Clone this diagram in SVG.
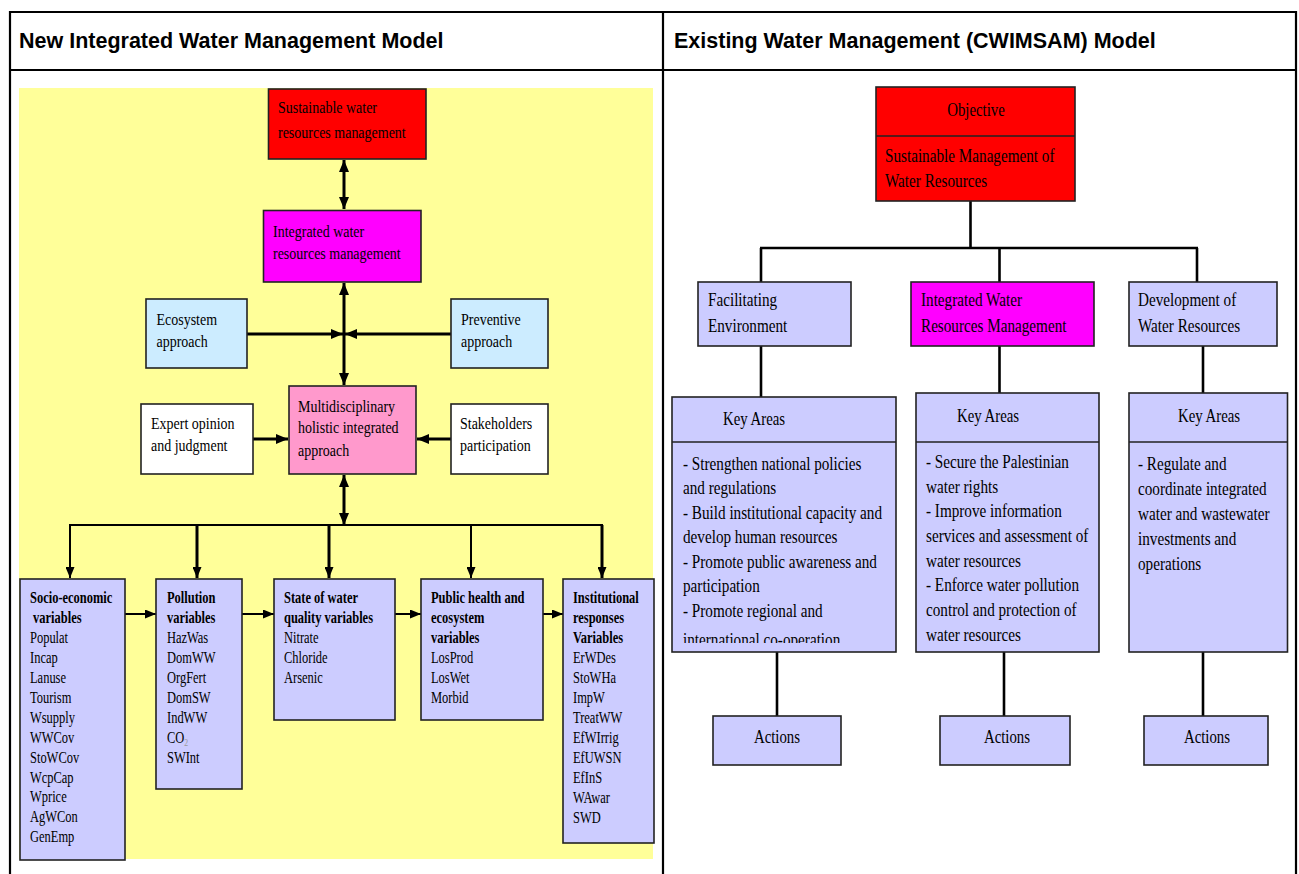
<svg xmlns="http://www.w3.org/2000/svg" width="1299" height="874" viewBox="0 0 1299 874">
<style>
.hdr{font-family:"Liberation Sans",Arial,sans-serif;font-weight:bold;font-size:21.5px;fill:#000}
.t{font-family:"Liberation Serif","Times New Roman",serif;fill:#000}
.f175{font-size:17.5px}
.f19{font-size:19px}
.f16{font-size:16px}
.b{font-weight:bold}
.box{stroke:#222;stroke-width:1.6}
.frame{stroke:#000;stroke-width:2.2;fill:none}
.c3{stroke:#000;stroke-width:3;fill:none}
.c2{stroke:#000;stroke-width:2;fill:none}
.cr{stroke:#000;stroke-width:2.6;fill:none}
.mid{text-anchor:middle}
</style>
<defs>
<marker id="ah" markerUnits="userSpaceOnUse" markerWidth="12" markerHeight="10" viewBox="0 0 12 10" refX="12" refY="5" orient="auto-start-reverse">
<path d="M0,0 L12,5 L0,10 z" fill="#000"/>
</marker>
<marker id="ahs" markerUnits="userSpaceOnUse" markerWidth="11" markerHeight="9" viewBox="0 0 11 9" refX="11" refY="4.5" orient="auto-start-reverse">
<path d="M0,0 L11,4.5 L0,9 z" fill="#000"/>
</marker>
<clipPath id="clipKA1"><rect x="672" y="442" width="224" height="201"/></clipPath>
</defs>

<g id="table">
<line class="frame" x1="10" y1="12" x2="1296" y2="12"/>
<line class="frame" x1="10" y1="70" x2="1296" y2="70"/>
<line class="frame" x1="10" y1="11" x2="10" y2="874"/>
<line class="frame" x1="663" y1="11" x2="663" y2="874"/>
<line class="frame" x1="1296" y1="11" x2="1296" y2="874"/>
<text class="hdr" x="19" y="48">New Integrated Water Management Model</text>
<text class="hdr" x="674" y="48">Existing Water Management (CWIMSAM) Model</text>
</g>

<rect id="left-bg" x="19" y="88" width="634" height="771" fill="#FFFF99"/>

<g id="connectors">
<line class="c3" x1="344" y1="160" x2="344" y2="209" marker-start="url(#ah)" marker-end="url(#ah)"/>
<line class="c3" x1="344" y1="283" x2="344" y2="385" marker-start="url(#ah)" marker-end="url(#ah)"/>
<line class="c3" x1="247" y1="334" x2="343" y2="334" marker-end="url(#ah)"/>
<line class="c3" x1="451" y1="334" x2="345" y2="334" marker-end="url(#ah)"/>
<line class="c3" x1="253" y1="439" x2="288" y2="439" marker-end="url(#ah)"/>
<line class="c3" x1="451" y1="439" x2="417" y2="439" marker-end="url(#ah)"/>
<line class="c3" x1="344" y1="475" x2="344" y2="525" marker-start="url(#ah)" marker-end="url(#ah)"/>
<line class="c2" x1="69" y1="525" x2="603" y2="525"/>
<line class="c2" x1="70" y1="525" x2="70" y2="578" marker-end="url(#ahs)"/>
<line class="c3" x1="197" y1="525" x2="197" y2="578" marker-end="url(#ahs)"/>
<line class="c3" x1="329" y1="525" x2="329" y2="578" marker-end="url(#ahs)"/>
<line class="c2" x1="471" y1="525" x2="471" y2="578" marker-end="url(#ahs)"/>
<line class="c3" x1="602" y1="525" x2="602" y2="578" marker-end="url(#ahs)"/>
<line class="c2" x1="125" y1="614" x2="156" y2="614" marker-end="url(#ahs)"/>
<line class="c2" x1="242" y1="614" x2="274" y2="614" marker-end="url(#ahs)"/>
<line class="c2" x1="395" y1="614" x2="421" y2="614" marker-end="url(#ahs)"/>
<line class="c2" x1="543" y1="614" x2="563" y2="614" marker-end="url(#ahs)"/>

<line class="cr" x1="970.5" y1="201" x2="970.5" y2="248"/>
<line class="cr" x1="760" y1="248" x2="1198" y2="248"/>
<line class="cr" x1="761" y1="248" x2="761" y2="282"/>
<line class="cr" x1="999.5" y1="248" x2="999.5" y2="282"/>
<line class="cr" x1="1197" y1="248" x2="1197" y2="282"/>
<line class="cr" x1="761" y1="346" x2="761" y2="397"/>
<line class="cr" x1="999.5" y1="346" x2="999.5" y2="393"/>
<line class="cr" x1="1203" y1="346" x2="1203" y2="393"/>
<line class="cr" x1="777" y1="652" x2="777" y2="716"/>
<line class="cr" x1="1004" y1="652" x2="1004" y2="716"/>
<line class="cr" x1="1203" y1="652" x2="1203" y2="716"/>
</g>

<g id="n-sustainable">
<rect class="box" x="268.5" y="89" width="157.5" height="70" fill="#FF0000"/>
<g class="t f175" transform="translate(278 0) scale(0.8 1)"><text y="113">Sustainable water</text><text y="138">resources management</text></g>
</g>
<g id="n-iwrm">
<rect class="box" x="263.5" y="210.5" width="157.5" height="71.5" fill="#FF00FF"/>
<g class="t f175" transform="translate(273 0) scale(0.8 1)"><text y="237">Integrated  water</text><text y="259">resources management</text></g>
</g>
<g id="n-ecosystem">
<rect class="box" x="146" y="299" width="101" height="69" fill="#CCECFF"/>
<g class="t f175" transform="translate(156.5 0) scale(0.8 1)"><text y="325">Ecosystem</text><text y="347">approach</text></g>
</g>
<g id="n-preventive">
<rect class="box" x="451" y="299" width="97" height="69" fill="#CCECFF"/>
<g class="t f175" transform="translate(461 0) scale(0.8 1)"><text y="325">Preventive</text><text y="347">approach</text></g>
</g>
<g id="n-multi">
<rect class="box" x="289" y="386" width="127" height="88" fill="#FF99CC"/>
<g class="t f175" transform="translate(298 0) scale(0.8 1)"><text y="412">Multidisciplinary</text><text y="433">holistic integrated</text><text y="456">approach</text></g>
</g>
<g id="n-expert">
<rect class="box" x="141" y="404" width="112" height="70" fill="#FFFFFF"/>
<g class="t f175" transform="translate(151 0) scale(0.8 1)"><text y="429">Expert opinion</text><text y="451">and judgment</text></g>
</g>
<g id="n-stakeholders">
<rect class="box" x="451" y="404" width="97" height="70" fill="#FFFFFF"/>
<g class="t f175" transform="translate(460 0) scale(0.8 1)"><text y="429">Stakeholders</text><text y="451">participation</text></g>
</g>

<g id="n-socio">
<rect class="box" x="20" y="579" width="105" height="281" fill="#CCCCFF"/>
<g class="t f16" transform="translate(30 0) scale(0.78 1)">
<text class="b" y="603">Socio-economic</text>
<text class="b" x="4" y="623">variables</text>
<text y="643">Populat</text><text y="663">Incap</text><text y="683">Lanuse</text><text y="703">Tourism</text><text y="723">Wsupply</text><text y="743">WWCov</text><text y="763">StoWCov</text><text y="783">WcpCap</text><text y="802.5">Wprice</text><text y="822.5">AgWCon</text><text y="842.5">GenEmp</text>
</g>
</g>
<g id="n-pollution">
<rect class="box" x="156" y="579" width="86" height="210" fill="#CCCCFF"/>
<g class="t f16" transform="translate(167 0) scale(0.78 1)">
<text class="b" y="603">Pollution</text>
<text class="b" y="623">variables</text>
<text y="643">HazWas</text><text y="663">DomWW</text><text y="683">OrgFert</text><text y="703">DomSW</text><text y="723">IndWW</text><text y="743">CO<tspan font-size="10" fill="#999" dy="3">2</tspan></text><text y="763">SWInt</text>
</g>
</g>
<g id="n-state">
<rect class="box" x="274" y="579" width="121" height="141" fill="#CCCCFF"/>
<g class="t f16" transform="translate(284 0) scale(0.78 1)">
<text class="b" y="603">State of water</text>
<text class="b" y="623">quality variables</text>
<text y="643">Nitrate</text><text y="663">Chloride</text><text y="683">Arsenic</text>
</g>
</g>
<g id="n-health">
<rect class="box" x="421" y="579" width="122" height="141" fill="#CCCCFF"/>
<g class="t f16" transform="translate(431 0) scale(0.78 1)">
<text class="b" y="603">Public health and</text>
<text class="b" y="623">ecosystem</text>
<text class="b" y="643">variables</text>
<text y="663">LosProd</text><text y="683">LosWet</text><text y="703">Morbid</text>
</g>
</g>
<g id="n-institutional">
<rect class="box" x="563" y="579" width="91" height="264" fill="#CCCCFF"/>
<g class="t f16" transform="translate(573 0) scale(0.78 1)">
<text class="b" y="603">Institutional</text>
<text class="b" y="623">responses</text>
<text class="b" y="643">Variables</text>
<text y="663">ErWDes</text><text y="683">StoWHa</text><text y="703">ImpW</text><text y="723">TreatWW</text><text y="743">EfWIrrig</text><text y="763">EfUWSN</text><text y="783">EfInS</text><text y="803">WAwar</text><text y="823">SWD</text>
</g>
</g>

<g id="n-objective">
<rect class="box" x="876" y="87" width="199" height="114" fill="#FF0000"/>
<line x1="876" y1="136" x2="1075" y2="136" stroke="#222" stroke-width="1.6"/>
<g class="t f19" transform="translate(976 0) scale(0.78 1)"><text class="mid" y="116">Objective</text></g>
<g class="t f19" transform="translate(885 0) scale(0.8 1)"><text y="162">Sustainable Management of</text><text y="187">Water Resources</text></g>
</g>
<g id="n-facilitating">
<rect class="box" x="698" y="282" width="153" height="64" fill="#CCCCFF"/>
<g class="t f19" transform="translate(708 0) scale(0.8 1)"><text y="306">Facilitating</text><text y="332">Environment</text></g>
</g>
<g id="n-iwrm2">
<rect class="box" x="911" y="282" width="183" height="64" fill="#FF00FF"/>
<g class="t f19" transform="translate(921 0) scale(0.8 1)"><text y="306">Integrated Water</text><text y="332">Resources Management</text></g>
</g>
<g id="n-development">
<rect class="box" x="1129" y="282" width="148" height="64" fill="#CCCCFF"/>
<g class="t f19" transform="translate(1138 0) scale(0.8 1)"><text y="306">Development of</text><text y="332">Water Resources</text></g>
</g>

<g id="n-key1">
<rect class="box" x="672" y="397" width="224" height="255" fill="#CCCCFF"/>
<line x1="672" y1="442" x2="896" y2="442" stroke="#222" stroke-width="1.6"/>
<g class="t f19" transform="translate(754 0) scale(0.78 1)"><text class="mid" y="425">Key Areas</text></g>
<g clip-path="url(#clipKA1)"><g class="t f19" transform="translate(683 0) scale(0.8 1)">
<text y="470">- Strengthen national policies</text>
<text y="494.5">and regulations</text>
<text y="519">- Build institutional capacity and</text>
<text y="543.5">develop human resources</text>
<text y="568">- Promote public awareness and</text>
<text y="592.5">participation</text>
<text y="617">- Promote regional and</text>
<text y="646">international co-operation</text>
</g></g>
</g>
<g id="n-key2">
<rect class="box" x="916" y="393" width="183" height="259" fill="#CCCCFF"/>
<line x1="916" y1="442" x2="1099" y2="442" stroke="#222" stroke-width="1.6"/>
<g class="t f19" transform="translate(988 0) scale(0.78 1)"><text class="mid" y="422">Key Areas</text></g>
<g class="t f19" transform="translate(926 0) scale(0.8 1)">
<text y="468">- Secure the Palestinian</text>
<text y="493">water rights</text>
<text y="517">- Improve information</text>
<text y="542">services and assessment of</text>
<text y="567">water resources</text>
<text y="591.5">- Enforce water pollution</text>
<text y="616.5">control and protection of</text>
<text y="641">water resources</text>
</g>
</g>
<g id="n-key3">
<rect class="box" x="1129" y="393" width="158.5" height="259" fill="#CCCCFF"/>
<line x1="1129" y1="442" x2="1287.5" y2="442" stroke="#222" stroke-width="1.6"/>
<g class="t f19" transform="translate(1209 0) scale(0.78 1)"><text class="mid" y="422">Key Areas</text></g>
<g class="t f19" transform="translate(1138 0) scale(0.8 1)">
<text y="470">- Regulate and</text>
<text y="495">coordinate integrated</text>
<text y="520">water and wastewater</text>
<text y="545">investments and</text>
<text y="570">operations</text>
</g>
</g>

<g id="n-actions1">
<rect class="box" x="713" y="716" width="128" height="49" fill="#CCCCFF"/>
<g class="t f19" transform="translate(777 0) scale(0.78 1)"><text class="mid" y="743">Actions</text></g>
</g>
<g id="n-actions2">
<rect class="box" x="940" y="716" width="130" height="49" fill="#CCCCFF"/>
<g class="t f19" transform="translate(1007 0) scale(0.78 1)"><text class="mid" y="743">Actions</text></g>
</g>
<g id="n-actions3">
<rect class="box" x="1144" y="716" width="124" height="49" fill="#CCCCFF"/>
<g class="t f19" transform="translate(1207 0) scale(0.78 1)"><text class="mid" y="743">Actions</text></g>
</g>
</svg>
